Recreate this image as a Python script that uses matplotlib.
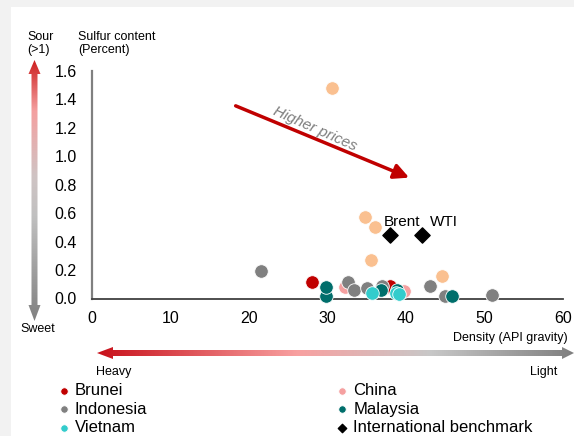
import matplotlib.pyplot as plt
import numpy as np
from matplotlib.colors import LinearSegmentedColormap
from matplotlib.patches import Polygon, Rectangle

plt.rcParams['font.family'] = ['Liberation Sans', 'DejaVu Sans']

# crude grades: API gravity (x) vs sulfur content in percent (y)
brunei_x = [28.0, 38.0]
brunei_y = [0.118, 0.09]
china_x = [32.2, 37.6, 39.7]
china_y = [0.08, 0.08, 0.05]
indonesia_x = [21.5, 32.6, 33.4, 35.0, 37.0, 43.0, 45.0, 50.9]
indonesia_y = [0.196, 0.118, 0.06, 0.074, 0.09, 0.088, 0.018, 0.025]
malaysia_x = [29.8, 29.8, 36.8, 38.8, 45.9]
malaysia_y = [0.018, 0.083, 0.06, 0.06, 0.018]
vietnam_x = [35.7, 38.7, 39.1]
vietnam_y = [0.04, 0.04, 0.03]
other_x = [30.6, 34.8, 36.05, 35.6, 44.6]
other_y = [1.48, 0.57, 0.50, 0.27, 0.16]
bench_names = ['Brent', 'WTI']
bench_x = [37.9, 42.0]
bench_y = [0.45, 0.45]

x_ticks = [0, 10, 20, 30, 40, 50, 60]
y_ticks = [0.0, 0.2, 0.4, 0.6, 0.8, 1.0, 1.2, 1.4, 1.6]

W, H = 574, 436
fig = plt.figure(figsize=(W / 100, H / 100), dpi=100, facecolor='#f2f2f2')

# background layer in pixel coordinates for the decorations
bg = fig.add_axes([0, 0, 1, 1])
bg.axis('off')
bg.set_zorder(0)
bg.add_patch(Rectangle((11, 7), W - 11, H - 7, facecolor='white', edgecolor='none', zorder=1))


def gradient_arrow(points, extent, colors, vertical):
    cmap = LinearSegmentedColormap.from_list('g', colors)
    grad = np.linspace(0, 1, 256)
    img = grad.reshape(-1, 1) if vertical else grad.reshape(1, -1)
    im = bg.imshow(img, cmap=cmap, extent=extent, origin='upper', aspect='auto', zorder=2)
    poly = Polygon(points, closed=True, facecolor='none', edgecolor='none')
    bg.add_patch(poly)
    im.set_clip_path(poly)


# vertical arrow: sour (top) -> sweet (bottom)
v_pts = [(34.5, 60), (40.5, 74), (37.5, 74), (37.5, 305), (40.5, 305), (34.5, 321),
         (28.5, 305), (31.5, 305), (31.5, 74), (28.5, 74)]
gradient_arrow(v_pts, (28, 41, 322, 59),
               [(0.0, '#cc1a1a'), (0.2, '#f4a0a0'), (0.45, '#cfc4c4'), (0.6, '#c0c0c0'), (1.0, '#808080')],
               vertical=True)

# horizontal arrow: heavy (left) <-> light (right)
h_pts = [(97, 353), (113, 347), (113, 350), (562, 350), (562, 347), (574, 353),
         (562, 359), (562, 356), (113, 356), (113, 359)]
gradient_arrow(h_pts, (96, 574, 360, 346),
               [(0.0, '#c8101a'), (0.42, '#f8a0a0'), (0.7, '#c8c8c8'), (1.0, '#7f7f7f')],
               vertical=False)

# imshow resets the limits, so set them afterwards
bg.set_xlim(0, W)
bg.set_ylim(H, 0)

bg.text(27, 31, 'Sour\n(>1)', fontsize=9, va='top', ha='left', linespacing=1.15)
bg.text(78, 31, 'Sulfur content\n(Percent)', fontsize=9, va='top', ha='left', linespacing=1.15)
bg.text(20, 329, 'Sweet', fontsize=9, va='center', ha='left')
bg.text(568, 338, 'Density (API gravity)', fontsize=9, va='center', ha='right')
bg.text(114, 372, 'Heavy', fontsize=9, va='center', ha='center')
bg.text(544, 372, 'Light', fontsize=9, va='center', ha='center')

# main scatter axes
ax = fig.add_axes([92 / W, (H - 298.5) / H, 471 / W, 227.5 / H])
ax.set_zorder(1)
ax.patch.set_visible(False)

kw = dict(s=95, edgecolors='white', linewidths=0.6, clip_on=False)
ax.scatter(other_x, other_y, color='#fac090', zorder=3, **kw)
ax.scatter(china_x, china_y, color='#f5a0a0', zorder=3, label='China', **kw)
ax.scatter(brunei_x, brunei_y, color='#c00000', zorder=3, label='Brunei', **kw)
ax.scatter(indonesia_x, indonesia_y, color='#808080', zorder=4, label='Indonesia', **kw)
ax.scatter(malaysia_x, malaysia_y, color='#006e6b', zorder=5, label='Malaysia', **kw)
ax.scatter(vietnam_x, vietnam_y, color='#33cccc', zorder=6, label='Vietnam', **kw)
ax.scatter(bench_x, bench_y, color='black', marker='D', s=60, zorder=7,
           label='International benchmark', clip_on=False)
label_offsets = [(-4, 9), (6, 9)]
for name, bx, by, off in zip(bench_names, bench_x, bench_y, label_offsets):
    ax.annotate(name, (bx, by), xytext=off, textcoords='offset points',
                fontsize=11, va='center', ha='left')

ax.annotate('', xy=(40.4, 0.85), xytext=(18.3, 1.355),
            arrowprops=dict(arrowstyle='-|>,head_length=0.9,head_width=0.45',
                            color='#c00000', lw=2.5, shrinkA=0, shrinkB=0))
ax.text(28.4, 1.19, 'Higher prices', fontsize=11, color='#7f7f7f', style='italic',
        rotation=-24, ha='center', va='center', rotation_mode='anchor')

ax.set_xlim(0, 60)
ax.set_ylim(0, 1.6)
ax.set_xticks(x_ticks)
ax.set_yticks(y_ticks)
ax.set_yticklabels([f'{v:.1f}' for v in y_ticks])
ax.tick_params(axis='both', length=0, labelsize=11.5)
ax.tick_params(axis='x', pad=9)
ax.tick_params(axis='y', pad=11)
for side in ['top', 'right']:
    ax.spines[side].set_visible(False)
ax.spines['left'].set_color('#808080')
ax.spines['left'].set_linewidth(1.6)
ax.spines['bottom'].set_color('#404040')
ax.spines['bottom'].set_linewidth(1.3)

handles, labels = ax.get_legend_handles_labels()
order = ['Brunei', 'Indonesia', 'Vietnam', 'China', 'Malaysia', 'International benchmark']
hmap = dict(zip(labels, handles))
leg = fig.legend([hmap[k] for k in order], order, loc='upper left',
                 bbox_to_anchor=(59 / W, 1 - 383 / H), ncol=2, frameon=False,
                 fontsize=12, markerscale=0.55, handlelength=0.6, handletextpad=0.35,
                 columnspacing=11.4, labelspacing=0.22, borderpad=0, borderaxespad=0)

fig.savefig('out.png', dpi=100, facecolor=fig.get_facecolor())
